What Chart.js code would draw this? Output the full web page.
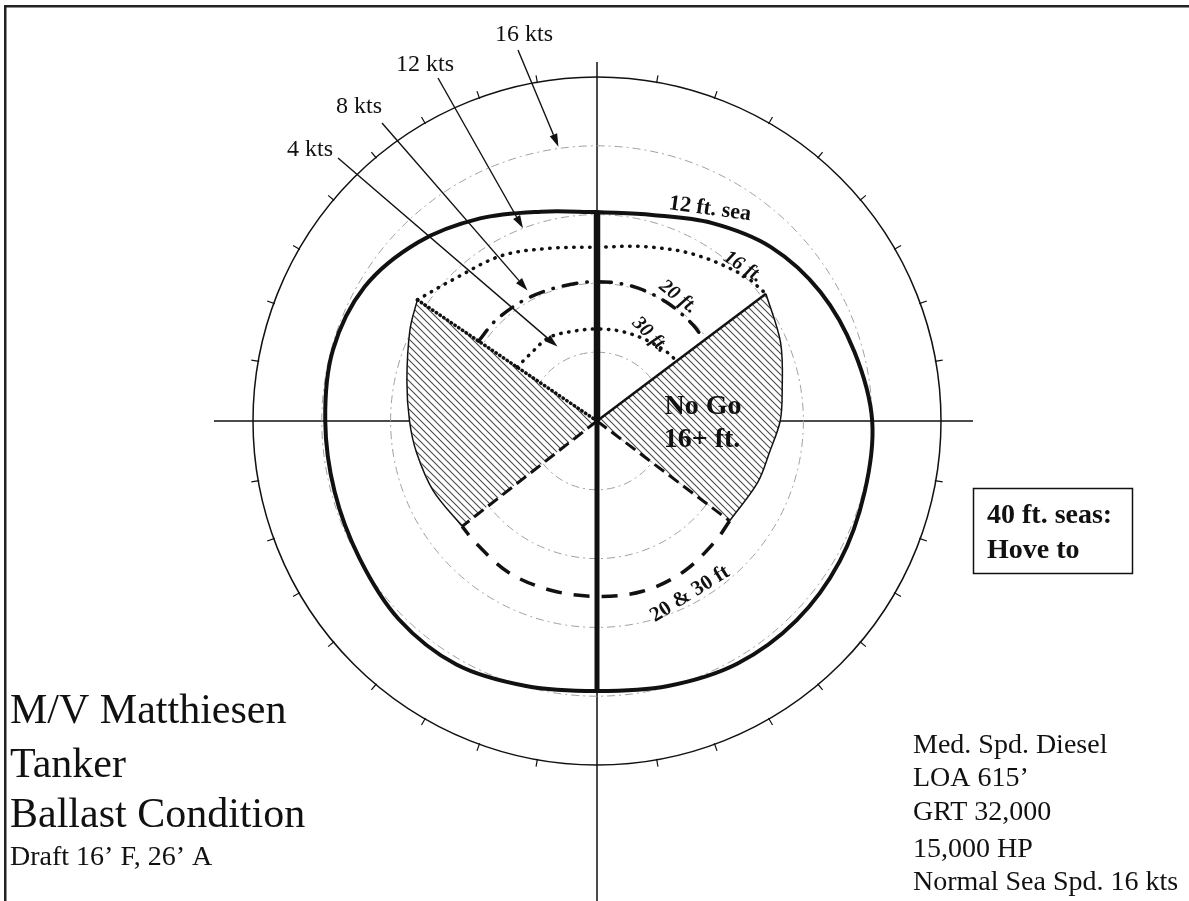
<!DOCTYPE html>
<html>
<head>
<meta charset="utf-8">
<title>M/V Matthiesen - Tanker Ballast Condition</title>
<script src="https://cdn.jsdelivr.net/npm/chart.js@4/dist/chart.umd.min.js"></script>
<style>
  html, body { margin: 0; padding: 0; background: #fff; }
  canvas { display: block; }
</style>
</head>
<body>
<canvas id="polar" width="1189" height="901"></canvas>
<script>
// speed rings (kts), outer rim = 20 kts
const speedRings = [4, 8, 12, 16];
const rimSpeed = 20;
const ringLabels = ["4 kts", "8 kts", "12 kts", "16 kts"];

// 12 ft sea, all the way round (heading 0 = head seas, clockwise)
const sea12Headings = [0, 15, 30, 45, 60, 75, 90, 105, 120, 135, 150, 165,
  180, 195, 210, 225, 240, 255, 270, 285, 300, 315, 330, 345];
const sea12Speeds = [12.15, 12.4, 13.3, 14.3, 15.0, 15.5, 16.0, 16.1, 16.3, 16.4, 16.3, 15.95,
  15.7, 15.95, 16.35, 16.3, 15.95, 15.8, 15.8, 15.9, 15.6, 14.7, 13.6, 12.6];

// forward sector between the two No Go wedges
const fwdHeadings = [304, 315, 330, 345, 0, 15, 30, 45, 53];
const sea16Speeds = [12.6, 11.7, 11.1, 10.4, 10.1, 10.5, 11.2, 12.0, 12.3];
const sea20Speeds = [8.3, 8.3, 8.2, 8.1, 8.1, 8.1, 8.0, 7.9, 7.8];
const sea30Speeds = [5.6, 5.5, 5.6, 5.4, 5.35, 5.4, 5.5, 5.7, 5.8];

// following seas, 20 & 30 ft
const aftHeadings = [127, 135, 150, 165, 180, 195, 210, 225, 232];
const sea2030Speeds = [9.65, 9.8, 10.1, 10.25, 10.2, 10.2, 10.2, 10.0, 9.95];

// No Go 16+ ft wedges (outer edge)
const noGoRightHeadings = [53, 67, 81, 90, 100, 111, 127];
const noGoRightSpeeds = [12.3, 11.6, 10.9, 10.65, 10.2, 10.0, 9.65];
const noGoLeftHeadings = [232, 247, 260, 270, 282, 296, 304];
const noGoLeftSpeeds = [9.95, 10.35, 10.65, 10.9, 11.3, 12.1, 12.6];

// arrows from the ring labels to the rings
const arrowTipHeadings = [332, 332, 339, 352];
const arrowTipSpeeds = [4.9, 8.6, 12.0, 16.1];

const PX_PER_KT = 17.2, CX = 597, CY = 421, W = 1189, H = 901;
const SERIF = '"Liberation Serif", "DejaVu Serif", serif';

function toXY(h, v) {
  const a = h * Math.PI / 180;
  return { x: v * Math.sin(a), y: v * Math.cos(a) };
}
function curve(headings, speeds) {
  return headings.map((h, i) => toXY(h, speeds[i]));
}
function wedge(headings, speeds) {
  return [{ x: 0, y: 0 }, ...curve(headings, speeds), { x: 0, y: 0 }];
}

function hatch() {
  const n = 7;
  const c = document.createElement('canvas');
  c.width = n; c.height = n;
  const g = c.getContext('2d');
  g.fillStyle = '#fff';
  g.fillRect(0, 0, n, n);
  g.strokeStyle = '#4a4a4a';
  g.lineWidth = 1.1;
  g.beginPath();
  g.moveTo(-1, -1); g.lineTo(n + 1, n + 1);
  g.moveTo(-1, n - 1); g.lineTo(1, n + 1);
  g.moveTo(n - 1, -1); g.lineTo(n + 1, 1);
  g.stroke();
  return g.createPattern(c, 'repeat');
}

const seaLoop = curve(sea12Headings, sea12Speeds);
seaLoop.push(seaLoop[0]);
const iAft = sea12Headings.indexOf(180);

const base = { showLine: true, pointRadius: 0, fill: false, borderColor: '#111', tension: 0.34 };

const datasets = [
  { ...base, label: '12 ft. sea', data: seaLoop, borderWidth: 4 },
  { ...base, label: 'bow', data: [{ x: 0, y: 0 }, toXY(0, sea12Speeds[0])], borderWidth: 6.5, tension: 0 },
  { ...base, label: 'stern', data: [{ x: 0, y: 0 }, toXY(180, sea12Speeds[iAft])], borderWidth: 5, tension: 0 },
  { ...base, label: '16 ft.', data: curve(fwdHeadings, sea16Speeds), borderWidth: 3.5,
    borderDash: [0.5, 7.5], borderCapStyle: 'round' },
  { ...base, label: '20 ft.', data: curve(fwdHeadings, sea20Speeds), borderWidth: 3.5,
    borderDash: [14, 10, 0.5, 10], borderCapStyle: 'round' },
  { ...base, label: '30 ft.', data: curve(fwdHeadings, sea30Speeds), borderWidth: 3.5,
    borderDash: [0.5, 7.5], borderCapStyle: 'round' },
  { ...base, label: '20 & 30 ft', data: curve(aftHeadings, sea2030Speeds), borderWidth: 3.5,
    borderDash: [16, 12] },
  // wedge edges
  { ...base, label: 'edge ur', data: [{ x: 0, y: 0 }, toXY(noGoRightHeadings[0], noGoRightSpeeds[0])],
    borderWidth: 2.5, tension: 0 },
  { ...base, label: 'edge lr', data: [{ x: 0, y: 0 }, toXY(noGoRightHeadings[6], noGoRightSpeeds[6])],
    borderWidth: 3, borderDash: [12, 6], tension: 0 },
  { ...base, label: 'edge ll', data: [{ x: 0, y: 0 }, toXY(noGoLeftHeadings[0], noGoLeftSpeeds[0])],
    borderWidth: 3, borderDash: [12, 6], tension: 0 },
  { ...base, label: 'edge ul', data: [{ x: 0, y: 0 }, toXY(noGoLeftHeadings[6], noGoLeftSpeeds[6])],
    borderWidth: 3.5, borderDash: [0.5, 4], borderCapStyle: 'round', tension: 0 },
  // wedge outlines
  { ...base, label: 'rim r', data: curve(noGoRightHeadings, noGoRightSpeeds), borderWidth: 1.5 },
  { ...base, label: 'rim l', data: curve(noGoLeftHeadings, noGoLeftSpeeds), borderWidth: 1.5 },
  // hatched fills, drawn first
  { ...base, label: 'No Go right', data: wedge(noGoRightHeadings, noGoRightSpeeds), tension: 0,
    borderWidth: 0, fill: 'shape', backgroundColor: hatch(), order: 10 },
  { ...base, label: 'No Go left', data: wedge(noGoLeftHeadings, noGoLeftSpeeds), tension: 0,
    borderWidth: 0, fill: 'shape', backgroundColor: hatch(), order: 10 }
];

function text(ctx, str, x, y, font, angle, align) {
  ctx.save();
  ctx.translate(x, y);
  ctx.rotate((angle || 0) * Math.PI / 180);
  ctx.font = font;
  ctx.textAlign = align || 'center';
  ctx.fillText(str, 0, 0);
  ctx.restore();
}

function arrow(ctx, x0, y0, x1, y1) {
  const a = Math.atan2(y1 - y0, x1 - x0), len = 13, wid = 4;
  ctx.beginPath();
  ctx.moveTo(x0, y0);
  ctx.lineTo(x1 - len * Math.cos(a), y1 - len * Math.sin(a));
  ctx.stroke();
  ctx.beginPath();
  ctx.moveTo(x1, y1);
  ctx.lineTo(x1 - len * Math.cos(a) + wid * Math.sin(a), y1 - len * Math.sin(a) - wid * Math.cos(a));
  ctx.lineTo(x1 - len * Math.cos(a) - wid * Math.sin(a), y1 - len * Math.sin(a) + wid * Math.cos(a));
  ctx.closePath();
  ctx.fill();
}

const polarDecor = {
  id: 'polarDecor',
  beforeDatasetsDraw(chart) {
    const { ctx, scales: { x, y } } = chart;
    const cx = x.getPixelForValue(0), cy = y.getPixelForValue(0);
    const rad = v => x.getPixelForValue(v) - cx;
    ctx.save();
    // page frame
    ctx.fillStyle = '#222';
    ctx.fillRect(4, 5, chart.width - 4, 2.5);
    ctx.fillRect(4, 5, 2.5, chart.height - 5);
    // cross
    ctx.strokeStyle = '#111';
    ctx.lineWidth = 1.5;
    ctx.beginPath();
    ctx.moveTo(cx, 62); ctx.lineTo(cx, chart.height);
    ctx.moveTo(214, cy); ctx.lineTo(973, cy);
    ctx.stroke();
    // speed rings
    ctx.strokeStyle = '#a0a0a0';
    ctx.lineWidth = 1;
    ctx.setLineDash([8, 4, 2, 4]);
    speedRings.forEach(v => {
      ctx.beginPath();
      ctx.arc(cx, cy, rad(v), 0, 2 * Math.PI);
      ctx.stroke();
    });
    ctx.setLineDash([]);
    // rim with 10 degree ticks
    const R = rad(rimSpeed);
    ctx.strokeStyle = '#111';
    ctx.lineWidth = 1.5;
    ctx.beginPath();
    ctx.arc(cx, cy, R, 0, 2 * Math.PI);
    ctx.stroke();
    ctx.lineWidth = 1.2;
    ctx.beginPath();
    for (let h = 10; h < 360; h += 10) {
      if (h % 90 === 0) continue;
      const a = h * Math.PI / 180, s = Math.sin(a), c = Math.cos(a);
      ctx.moveTo(cx + (R - 1) * s, cy - (R - 1) * c);
      ctx.lineTo(cx + (R + 7) * s, cy - (R + 7) * c);
    }
    ctx.stroke();
    ctx.restore();
  },
  afterDatasetsDraw(chart) {
    const { ctx, scales: { x, y } } = chart;
    ctx.save();
    ctx.fillStyle = '#111';
    ctx.strokeStyle = '#111';
    ctx.textBaseline = 'middle';

    // ring labels + arrows
    const labelPos = [[310, 150], [359, 107], [425, 65], [524, 35]];
    const tails = [[338, 158], [382, 123], [438, 78], [518, 50]];
    ringLabels.forEach((t, i) => {
      text(ctx, t, labelPos[i][0], labelPos[i][1], '24px ' + SERIF);
      const p = toXY(arrowTipHeadings[i], arrowTipSpeeds[i]);
      ctx.lineWidth = 1.4;
      arrow(ctx, tails[i][0], tails[i][1], x.getPixelForValue(p.x), y.getPixelForValue(p.y));
    });

    // curve labels
    text(ctx, '12 ft. sea', 710, 209, 'bold 22px ' + SERIF, 8);
    text(ctx, '16 ft.', 743, 267, 'italic bold 20px ' + SERIF, 33);
    text(ctx, '20 ft.', 678, 297, 'italic bold 20px ' + SERIF, 38);
    text(ctx, '30 ft.', 650, 335, 'italic bold 20px ' + SERIF, 45);
    text(ctx, '20 & 30 ft', 690, 594, 'bold 21px ' + SERIF, -32);
    text(ctx, 'No Go', 703, 407, 'bold 28px ' + SERIF);
    text(ctx, '16+ ft.', 702, 440, 'bold 28px ' + SERIF);

    // heave-to box
    ctx.lineWidth = 1.5;
    ctx.strokeRect(973.5, 488.5, 159, 85);
    ctx.textBaseline = 'alphabetic';
    text(ctx, '40 ft. seas:', 987, 523, 'bold 28px ' + SERIF, 0, 'left');
    text(ctx, 'Hove to', 987, 558, 'bold 28px ' + SERIF, 0, 'left');

    // vessel title
    text(ctx, 'M/V Matthiesen', 10, 723, '42px ' + SERIF, 0, 'left');
    text(ctx, 'Tanker', 10, 777, '42px ' + SERIF, 0, 'left');
    text(ctx, 'Ballast Condition', 10, 827, '42px ' + SERIF, 0, 'left');
    text(ctx, 'Draft 16\u2019 F, 26\u2019 A', 10, 865, '28px ' + SERIF, 0, 'left');

    // particulars
    const specs = ['Med. Spd. Diesel', 'LOA 615\u2019', 'GRT 32,000', '15,000 HP', 'Normal Sea Spd. 16 kts'];
    const specY = [753, 786, 820, 857, 890];
    specs.forEach((s, i) => text(ctx, s, 913, specY[i], '28px ' + SERIF, 0, 'left'));
    ctx.restore();
  }
};

new Chart(document.getElementById('polar'), {
  type: 'scatter',
  data: { datasets },
  options: {
    responsive: false,
    animation: false,
    events: [],
    layout: { padding: 0, autoPadding: false },
    scales: {
      x: { type: 'linear', display: false, min: -CX / PX_PER_KT, max: (W - CX) / PX_PER_KT },
      y: { type: 'linear', display: false, min: -(H - CY) / PX_PER_KT, max: CY / PX_PER_KT }
    },
    plugins: {
      legend: { display: false },
      tooltip: { enabled: false }
    }
  },
  plugins: [polarDecor]
});
</script>
</body>
</html>
